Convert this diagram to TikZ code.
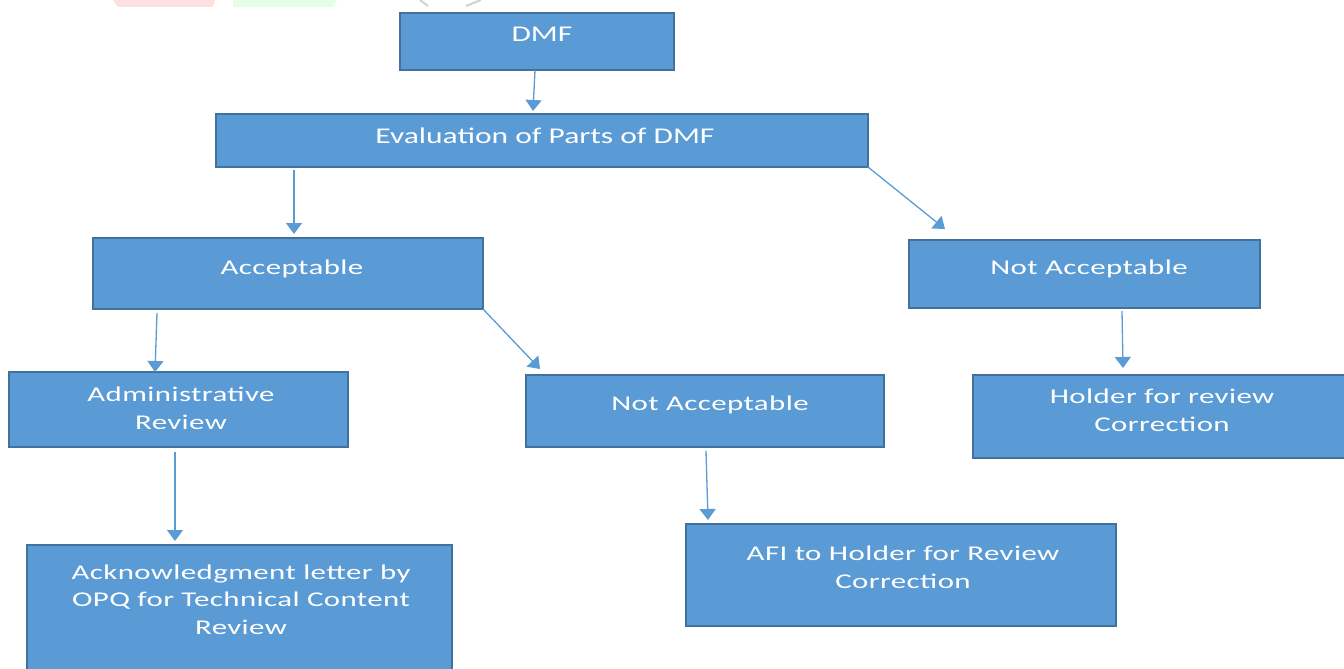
\documentclass[tikz,border=0pt]{standalone}
\usepackage{fontspec}
\setmainfont{Carlito}
\newfontfamily\topfont[FakeStretch=1.40]{Carlito}
\newfontfamily\widefont[FakeStretch=1.47,LetterSpace=2]{Carlito}
\usetikzlibrary{arrows.meta}
\definecolor{boxfill}{HTML}{5B9BD5}
\definecolor{boxline}{HTML}{41719C}
\definecolor{arrowc}{HTML}{5B9BD5}
\begin{document}
\begin{tikzpicture}[x=1pt,y=-1pt,
  box/.style={draw=boxline, line width=2.8pt, fill=boxfill, inner sep=0pt, outer sep=0pt},
  lbltop/.style={text=white, font=\topfont\fontsize{22.5}{27}\selectfont, anchor=base, inner sep=0pt, align=center},
  lbl/.style={text=white, font=\widefont\fontsize{21}{27.5}\selectfont, anchor=base, inner sep=0pt, align=center},
  arr/.style={draw=arrowc, line width=1.3pt, -{Triangle[width=16pt,length=11pt]}}]
\useasboundingbox (0,0) rectangle (1344,669);
\clip (0,0) rectangle (1344,669);
% faint watermark remnants
\fill[red!12] (113,0) -- (215,0) -- (213,7) -- (118,7) -- cycle;
\fill[green!10] (233,0) -- (337,0) -- (333,7) -- (233,7) -- cycle;
\draw[gray!35, line width=2pt] (420,0) -- (428,6);
\draw[gray!35, line width=2pt] (466,6) -- (481,0);
% boxes
\node[box, minimum width=274pt, minimum height=57pt] (dmf) at (537,41.5) {};
\node[box, minimum width=652pt, minimum height=53pt] (eval) at (542,140.5) {};
\node[box, minimum width=390pt, minimum height=71pt] (acc) at (288,273.5) {};
\node[box, minimum width=351pt, minimum height=68pt] (nar) at (1084.5,274) {};
\node[box, minimum width=339pt, minimum height=75pt] (adm) at (178.5,409.5) {};
\node[box, minimum width=358pt, minimum height=72pt] (nam) at (705,411) {};
\node[box, minimum width=375pt, minimum height=83pt] (hold) at (1160.5,416.5) {};
\node[box, minimum width=425pt, minimum height=135pt] (ack) at (239.5,612.5) {};
\node[box, minimum width=430pt, minimum height=102pt] (afi) at (901,575) {};
% labels (base anchor = baseline of last line)
\node[lbltop] (tdmf) at (542,42) {DMF};
\node[lbltop] (teval) at (545,143) {Evaluation of Parts of DMF};
\node[lbl] (tacc) at (292,274) {Acceptable};
\node[lbl] (tnar) at (1089,274) {Not Acceptable};
\node[lbl] (tadm) at (181,429) {Administrative\\Review};
\node[lbl] (tnam) at (710,410) {Not Acceptable};
\node[lbl] (thold) at (1162,431) {Holder for review\\Correction};
\node[lbl] (tack) at (241,634) {Acknowledgment letter by\\OPQ for Technical Content\\Review};
\node[lbl] (tafi) at (903,588) {AFI to Holder for Review\\Correction};
% connectors
\draw[arr] ([xshift=135pt]dmf.south west) -- ([xshift=317pt,yshift=3pt]eval.north west);
\draw[arr] ([xshift=78pt,yshift=-3pt]eval.south west) -- ([xshift=201pt,yshift=4pt]acc.north west);
\draw[arr] (eval.south east) -- ([xshift=36pt,yshift=11pt]nar.north west);
\draw[arr] ([xshift=64pt,yshift=-4pt]acc.south west) -- ([xshift=146pt]adm.north west);
\draw[arr] (acc.south east) -- ([xshift=14pt,yshift=6pt]nam.north west);
\draw[arr] ([xshift=213pt,yshift=-3pt]nar.south west) -- ([xshift=150pt,yshift=7pt]hold.north west);
\draw[arr] ([xshift=166pt,yshift=-5pt]adm.south west) -- ([xshift=148pt,yshift=4pt]ack.north west);
\draw[arr] ([xshift=180pt,yshift=-4pt]nam.south west) -- ([xshift=22pt,yshift=4pt]afi.north west);
\end{tikzpicture}
\end{document}
